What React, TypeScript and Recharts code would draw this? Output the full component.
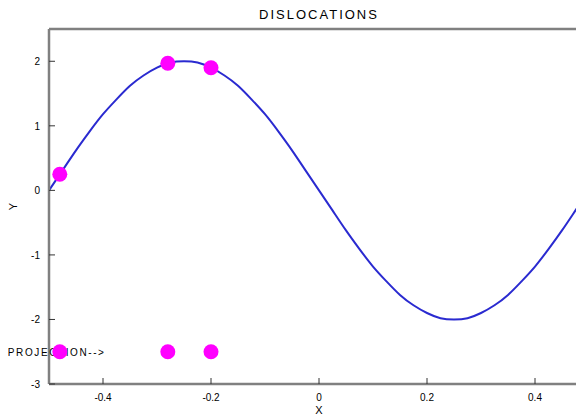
import React from 'react'
import { ComposedChart, Line, Scatter, XAxis, YAxis } from 'recharts'

// curve
const curveX = [-0.5, -0.475, -0.45, -0.425, -0.4, -0.375, -0.35, -0.325, -0.3, -0.275, -0.25, -0.225, -0.2, -0.175, -0.15, -0.125, -0.1, -0.075, -0.05, -0.025, 0, 0.025, 0.05, 0.075, 0.1, 0.125, 0.15, 0.175, 0.2, 0.225, 0.25, 0.275, 0.3, 0.325, 0.35, 0.375, 0.4, 0.425, 0.45, 0.475, 0.5]
const curveY = [0, 0.31, 0.62, 0.91, 1.18, 1.41, 1.62, 1.78, 1.9, 1.98, 2, 1.98, 1.9, 1.78, 1.62, 1.41, 1.18, 0.91, 0.62, 0.31, 0, -0.31, -0.62, -0.91, -1.18, -1.41, -1.62, -1.78, -1.9, -1.98, -2, -1.98, -1.9, -1.78, -1.62, -1.41, -1.18, -0.91, -0.62, -0.31, 0]

const dislocX = [-0.48, -0.28, -0.2]
const dislocY = [0.25, 1.97, 1.9]
const projY = -2.5

const xTicks = [-0.4, -0.2, 0, 0.2, 0.4]
const yTicks = [-3, -2, -1, 0, 1, 2]

const curve = curveX.map((x, i) => ({ x, y: curveY[i] }))
const dislocations = dislocX.map((x, i) => ({ x, y: dislocY[i] }))
const projections = dislocX.map((x) => ({ x, y: projY }))
const projLabel = [{ x: dislocX[0], y: projY }]

const FONT = '"Liberation Sans", Arial, sans-serif'
const FRAME = '#808080'

const BottomTick = ({ x, y, payload }: any) => (
  <g>
    <line x1={x} x2={x} y1={y} y2={y - 6} stroke="#333" />
    <text x={x} y={y + 17} textAnchor="middle" fontSize={10} fontFamily={FONT} fill="#000">{payload.value}</text>
  </g>
)
const TopTick = ({ x, y }: any) => <line x1={x} x2={x} y1={y} y2={y + 6} stroke="#333" />
const LeftTick = ({ x, y, payload }: any) => (
  <g>
    <line x1={x} x2={x + 6} y1={y} y2={y} stroke="#333" />
    <text x={x - 9} y={y + 4} textAnchor="end" fontSize={10} fontFamily={FONT} fill="#000">{payload.value}</text>
  </g>
)
const RightTick = ({ x, y }: any) => <line x1={x} x2={x - 6} y1={y} y2={y} stroke="#333" />

const ProjText = ({ cx, cy }: any) => (
  <text x={cx - 52} y={cy + 4} fontSize={10} fontFamily={FONT} letterSpacing={1.6} fill="#000">PROJECTION--&gt;</text>
)

const Dot = ({ cx, cy }: any) => <circle cx={cx} cy={cy} r={7.5} fill="#ff00ff" />

const axisLine = { stroke: FRAME, strokeWidth: 2.5 }

export default function App() {
  return (
    <div style={{ position: 'relative', width: 576, height: 411, overflow: 'hidden', background: '#fff' }}>
      <div style={{ position: 'absolute', left: 0, width: 622, top: 0, lineHeight: '13px', textAlign: 'center', fontFamily: FONT, fontSize: 13, letterSpacing: 2 }}>DISLOCATIONS</div>
      <div style={{ position: 'absolute', left: 0, width: 622, top: 397, lineHeight: '11px', textAlign: 'center', fontFamily: FONT, fontSize: 11 }}>X</div>
      <div style={{ position: 'absolute', left: 2, top: 193, lineHeight: '11px', fontFamily: FONT, fontSize: 11, transform: 'rotate(-90deg)' }}>Y</div>
      <ComposedChart width={600} height={411} margin={{ top: 20, right: 18, left: 0, bottom: 0 }}>
        <XAxis xAxisId="b" type="number" dataKey="x" domain={[-0.5, 0.5]} ticks={xTicks} orientation="bottom" height={35}
          axisLine={axisLine} tickLine={false} tickSize={0} tickMargin={0} tick={<BottomTick />} />
        <XAxis xAxisId="t" type="number" domain={[-0.5, 0.5]} ticks={xTicks} orientation="top" height={1}
          axisLine={axisLine} tickLine={false} tickSize={0} tickMargin={0} tick={<TopTick />} />
        <YAxis yAxisId="l" type="number" dataKey="y" domain={[-3, 2.5]} ticks={yTicks} width={41}
          axisLine={axisLine} tickLine={false} tickSize={0} tickMargin={0} tick={<LeftTick />} />
        <YAxis yAxisId="r" type="number" domain={[-3, 2.5]} ticks={yTicks} orientation="right" width={1}
          axisLine={axisLine} tickLine={false} tickSize={0} tickMargin={0} tick={<RightTick />} />
        <Line xAxisId="b" yAxisId="l" data={curve} dataKey="y" type="natural" stroke="#2a2ad0" strokeWidth={2} dot={false} isAnimationActive={false} />
        <Scatter xAxisId="b" yAxisId="l" data={projLabel} shape={<ProjText />} isAnimationActive={false} />
        <Scatter xAxisId="b" yAxisId="l" data={dislocations} shape={<Dot />} isAnimationActive={false} />
        <Scatter xAxisId="b" yAxisId="l" data={projections} shape={<Dot />} isAnimationActive={false} />
      </ComposedChart>
    </div>
  )
}
